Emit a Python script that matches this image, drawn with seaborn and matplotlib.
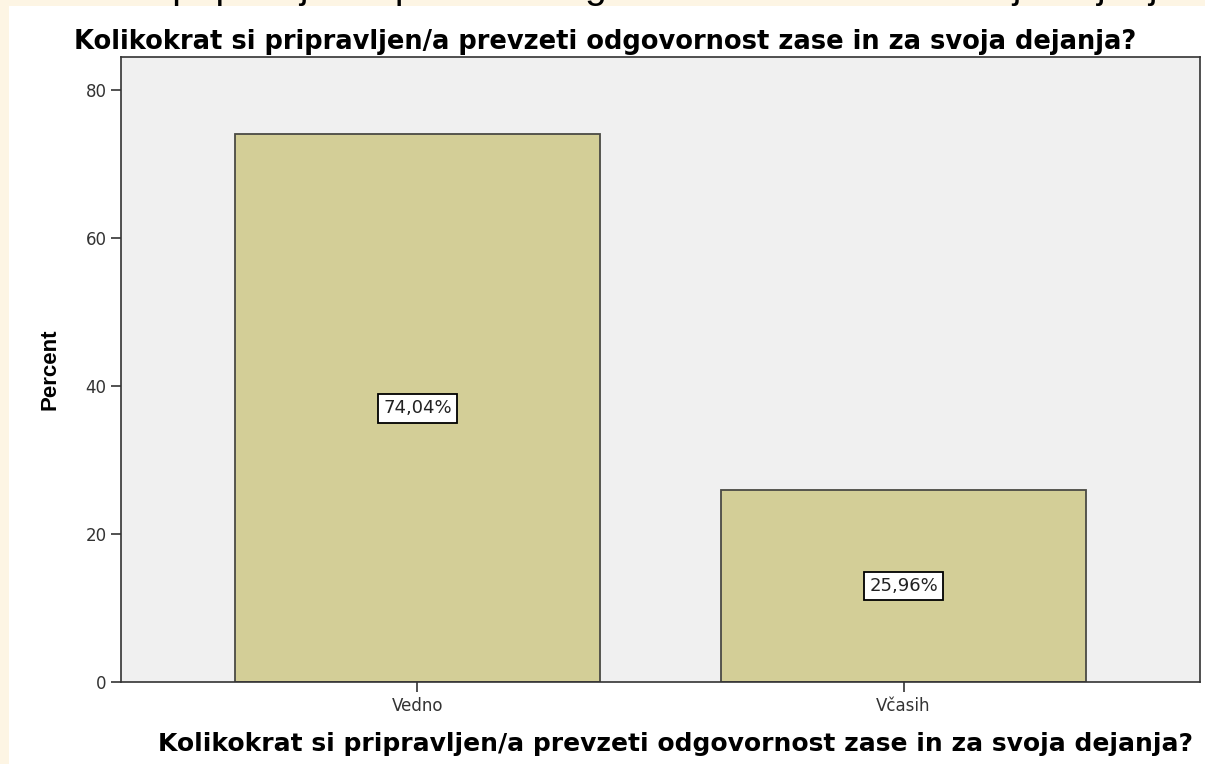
import pandas as pd
import matplotlib.pyplot as plt
import seaborn as sns

# Podatki
categories = ['Vedno', 'Včasih']
percents = [74.04, 25.96]
labels = ['74,04%', '25,96%']
question = 'Kolikokrat si pripravljen/a prevzeti odgovornost zase in za svoja dejanja?'

df = pd.DataFrame({'odgovor': categories, 'Percent': percents})

sns.set_style("white")
plt.rcParams['font.family'] = ['DejaVu Sans']

fig = plt.figure(figsize=(12.05, 7.64), dpi=100)
fig.patch.set_facecolor('#fdf5e4')

# bel panel (izrezan posnetek zaslona)
panel = fig.add_axes([9 / 1205, 0, 1 - 9 / 1205, 1 - 6 / 764])
panel.set_facecolor('white')
panel.set_xticks([])
panel.set_yticks([])
for s in panel.spines.values():
    s.set_visible(False)

# odrezana vrstica besedila na vrhu
fig.text(0.478, 1 + 2 / 764, question, ha='center', va='baseline',
         fontsize=28, family='Liberation Sans', color='black')

ax = fig.add_axes([121 / 1205, 82 / 764, 1079 / 1205, 625 / 764])
sns.barplot(data=df, x='odgovor', y='Percent', color='#d3ce97', width=0.75,
            edgecolor='#4a4a44', linewidth=1.3, saturation=1, ax=ax)
ax.set_facecolor('#f0f0f0')
ax.set_xlim(-0.61, 1.61)
ax.set_ylim(0, 84.5)
ax.set_yticks([0, 20, 40, 60, 80])

for i, (v, lab) in enumerate(zip(percents, labels)):
    ax.text(i, v / 2, lab, ha='center', va='center', fontsize=13, color='#222222',
            bbox=dict(boxstyle='square,pad=0.3', facecolor='white', edgecolor='black', linewidth=1.3))

for s in ax.spines.values():
    s.set_color('#333333')
    s.set_linewidth(1.2)

ax.tick_params(axis='both', which='both', direction='out', length=7, width=1.2,
               color='#333333', labelsize=12, labelcolor='#333333',
               left=True, bottom=True, top=False, right=False)

ax.set_title(question, fontsize=18.5, fontweight='bold', color='black',
             x=0.449, pad=6)
ax.set_xlabel(question, fontsize=18, fontweight='bold', color='black')
ax.xaxis.set_label_coords(0.514, -0.08)
ax.set_ylabel('Percent', fontsize=16, fontweight='bold', family='Liberation Sans',
              color='black', labelpad=18)

fig.savefig('out.png', dpi=100, facecolor=fig.get_facecolor())
